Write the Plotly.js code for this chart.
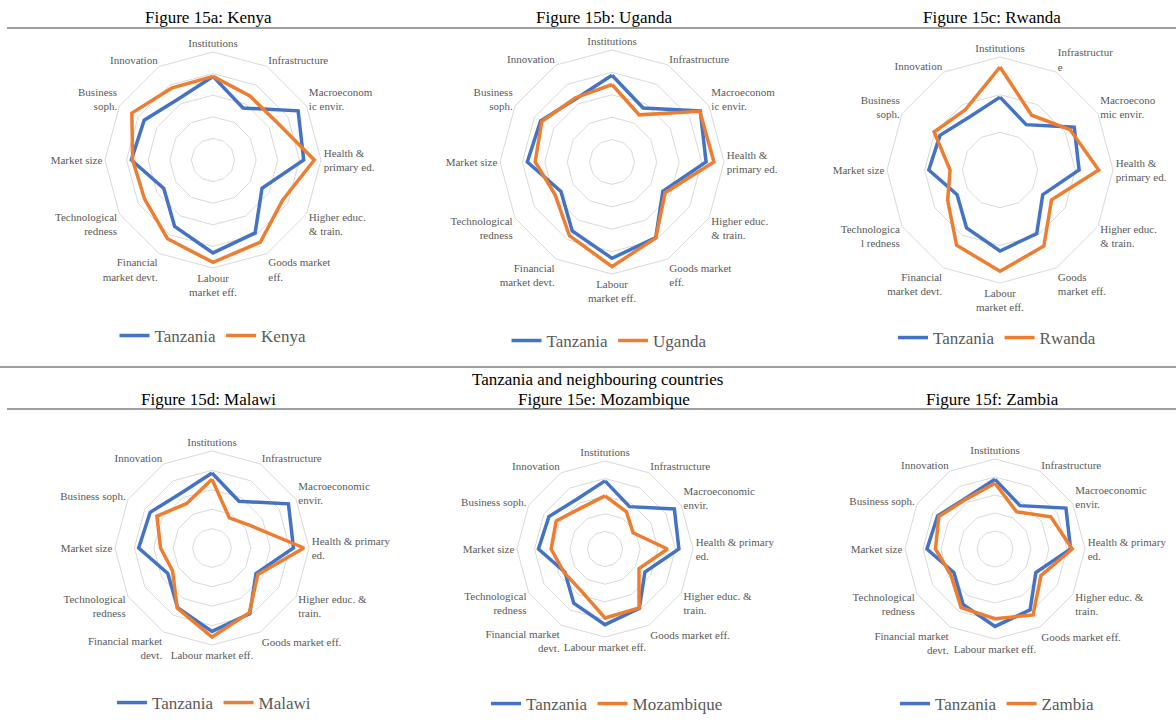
<!DOCTYPE html>
<html>
<head>
<meta charset="utf-8">
<script src="https://cdn.plot.ly/plotly-3.0.1.min.js"></script>
<style>html,body{margin:0;padding:0;background:#fff;}#chart{width:1176px;height:722px;}</style>
</head>
<body>
<div id="chart"></div>
<script>
// ---------- data ----------
const labelsTop = ["Institutions","Infrastructure","Macroeconom<br>ic envir.","Health &<br>primary ed.","Higher educ.<br>& train.","Goods market<br>eff.","Labour<br>market eff.","Financial<br>market devt.","Technological<br>redness","Market size","Business<br>soph.","Innovation"];
const labelsRwanda = ["Institutions","Infrastructur<br>e","Macroecono<br>mic envir.","Health &<br>primary ed.","Higher educ.<br>& train.","Goods<br>market eff.","Labour<br>market eff.","Financial<br>market devt.","Technologica<br>l redness","Market size","Business<br>soph.","Innovation"];
const labelsBottom = ["Institutions","Infrastructure","Macroeconomic<br>envir.","Health & primary<br>ed.","Higher educ. &<br>train.","Goods market eff.","Labour market eff.","Financial market<br>devt.","Technological<br>redness","Market size","Business soph.","Innovation"];

const tanzania   = [3.87, 2.78, 4.55, 4.20, 2.62, 3.90, 4.30, 3.55, 2.63, 3.78, 3.68, 3.25];
const kenya      = [3.87, 3.42, 3.44, 4.69, 3.72, 4.39, 4.74, 4.21, 3.65, 3.72, 4.34, 3.84];
const uganda     = [3.46, 2.43, 4.53, 4.55, 2.74, 3.91, 4.67, 3.80, 2.93, 3.43, 3.62, 3.30];
const rwanda     = [5.47, 3.36, 4.29, 5.24, 3.16, 4.66, 5.38, 4.61, 3.21, 2.65, 4.04, 3.69];
const malawi     = [3.54, 1.79, 2.30, 4.74, 2.73, 3.85, 4.59, 3.58, 2.35, 2.65, 3.28, 2.64];
const mozambique = [3.02, 2.44, 1.84, 3.55, 2.23, 3.87, 3.92, 2.73, 2.68, 3.06, 3.20, 2.70];
const zambia     = [3.65, 2.39, 3.58, 4.29, 2.95, 4.23, 3.87, 3.76, 2.84, 3.31, 3.60, 3.20];

const countryNames = ["Kenya","Uganda","Rwanda","Malawi","Mozambique","Zambia"];
const figureTitles = ["Figure 15a: Kenya","Figure 15b: Uganda","Figure 15c: Rwanda","Figure 15d: Malawi","Figure 15e: Mozambique","Figure 15f: Zambia"];
const sectionTitle = "Tanzania and neighbouring countries";
const baseName = "Tanzania";

// ---------- layout helpers ----------
const W = 1176, H = 722;
const px = x => x / W;
const py = y => 1 - y / H;

const panels = [
  {vals: kenya,      labels: labelsTop,    cx: 213, cy: 160, R: 108, rmax: 5, dtick: 1, tx: 208, ty: 18,  lx: 213, ly: 336},
  {vals: uganda,     labels: labelsTop,    cx: 612, cy: 162, R: 112, rmax: 5, dtick: 1, tx: 604, ty: 18,  lx: 609, ly: 341},
  {vals: rwanda,     labels: labelsRwanda, cx: 1000, cy: 170, R: 113, rmax: 6, dtick: 2, tx: 992, ty: 18, lx: 997, ly: 338},
  {vals: malawi,     labels: labelsBottom, cx: 212, cy: 548, R: 97,  rmax: 5, dtick: 1, tx: 208, ty: 399, lx: 214, ly: 703},
  {vals: mozambique, labels: labelsBottom, cx: 605, cy: 549, R: 88,  rmax: 5, dtick: 1, tx: 604, ty: 399, lx: 607, ly: 704},
  {vals: zambia,     labels: labelsBottom, cx: 995, cy: 549, R: 90,  rmax: 5, dtick: 1, tx: 992, ty: 399, lx: 997, ly: 704}
];

const BLUE = "#4472C4", ORANGE = "#ED7D31";
const serif = "Liberation Serif, Times New Roman, serif";
const close = a => a.concat([a[0]]);

const data = [];
const layout = {
  width: W, height: H,
  margin: {l: 0, r: 0, t: 0, b: 0},
  paper_bgcolor: "#ffffff",
  plot_bgcolor: "#ffffff",
  font: {family: serif, color: "#595959"},
  showlegend: true,
  annotations: [],
  shapes: [
    {type: "line", xref: "paper", yref: "paper", x0: px(7), x1: 1, y0: py(28), y1: py(28), line: {color: "#404040", width: 1}},
    {type: "line", xref: "paper", yref: "paper", x0: 0, x1: 1, y0: py(367), y1: py(367), line: {color: "#404040", width: 1}},
    {type: "line", xref: "paper", yref: "paper", x0: px(7), x1: 1, y0: py(409), y1: py(409), line: {color: "#404040", width: 1}}
  ]
};

panels.forEach((p, i) => {
  const sfx = i === 0 ? "" : String(i + 1);
  const polarId = "polar" + sfx;
  const legendId = "legend" + sfx;
  layout[polarId] = {
    domain: {x: [px(p.cx - p.R), px(p.cx + p.R)], y: [py(p.cy + p.R), py(p.cy - p.R)]},
    bgcolor: "rgba(0,0,0,0)",
    gridshape: "linear",
    radialaxis: {range: [0, p.rmax], tick0: 0, dtick: p.dtick, showticklabels: false, ticks: "", showline: false,
                 gridcolor: "#D9D9D9", gridwidth: 1},
    angularaxis: {type: "category", rotation: 90, direction: "clockwise", showgrid: false,
                  linecolor: "#D9D9D9", linewidth: 1, ticks: "",
                  tickfont: {family: serif, size: 11, color: "#595959"}}
  };
  layout[legendId] = {
    orientation: "h", x: px(p.lx), y: py(p.ly), xanchor: "center", yanchor: "middle",
    font: {family: serif, size: 17, color: "#595959"}, bgcolor: "rgba(0,0,0,0)", traceorder: "normal"
  };
  data.push({
    type: "scatterpolar", mode: "lines", name: baseName, subplot: polarId, legend: legendId,
    r: close(tanzania), theta: close(p.labels),
    line: {color: BLUE, width: 3.5}, hoverinfo: "skip"
  });
  data.push({
    type: "scatterpolar", mode: "lines", name: countryNames[i], subplot: polarId, legend: legendId,
    r: close(p.vals), theta: close(p.labels),
    line: {color: ORANGE, width: 3.5}, hoverinfo: "skip"
  });
  layout.annotations.push({
    xref: "paper", yref: "paper", x: px(p.tx), y: py(p.ty), xanchor: "center", yanchor: "middle",
    text: figureTitles[i], showarrow: false, font: {family: serif, size: 17, color: "#000000"}
  });
});

layout.annotations.push({
  xref: "paper", yref: "paper", x: px(597), y: py(379), xanchor: "center", yanchor: "middle",
  text: sectionTitle, showarrow: false, font: {family: serif, size: 17, color: "#000000"}
});

Plotly.newPlot("chart", data, layout, {displayModeBar: false, staticPlot: true});
</script>
</body>
</html>
